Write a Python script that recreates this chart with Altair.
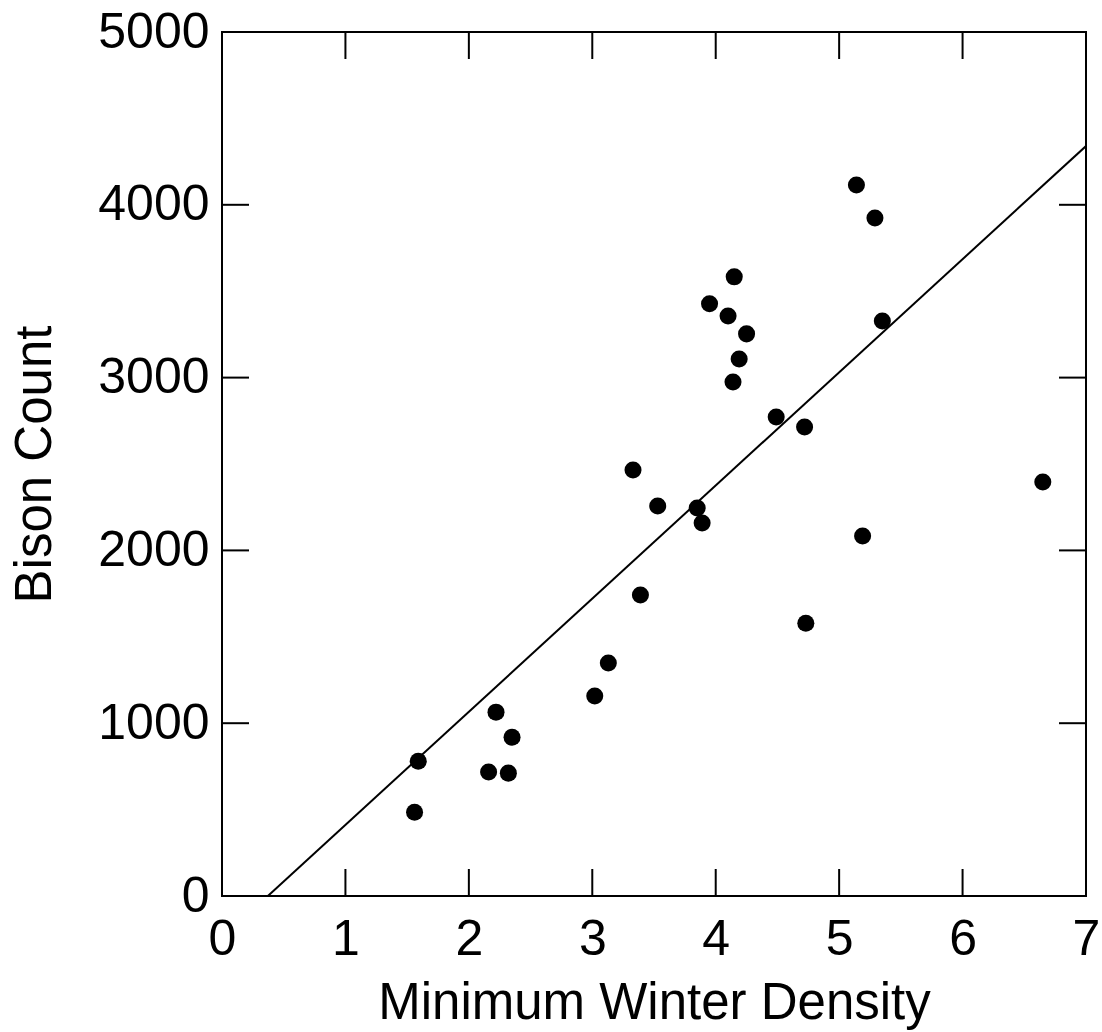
import altair as alt
import pandas as pd

density = [1.56, 1.59, 2.16, 2.32, 2.22, 2.35, 3.02, 3.13, 3.39, 3.33, 3.53, 3.85, 3.89,
           3.95, 4.10, 4.15, 4.25, 4.19, 4.14, 4.49, 4.72, 4.73, 5.14, 5.29, 5.35, 5.19, 6.65]
count = [485, 780, 717, 711, 1064, 919, 1157, 1348, 1742, 2465, 2257, 2245, 2158,
         3427, 3357, 3583, 3253, 3108, 2975, 2772, 2714, 1579, 4115, 3924, 3328, 2083, 2396]
x_ticks = [0, 1, 2, 3, 4, 5, 6, 7]
y_ticks = [0, 1000, 2000, 3000, 4000, 5000]

df = pd.DataFrame({"density": density, "count": count})
xt = pd.DataFrame({"density": x_ticks})
yt = pd.DataFrame({"count": y_ticks})

W, H, T = 864, 864, 27
FONT = "Liberation Sans"

xs = alt.Scale(domain=[0, 7], nice=False, zero=False)
ys = alt.Scale(domain=[0, 5000], nice=False, zero=False)

xaxis = alt.Axis(title="Minimum Winter Density", values=x_ticks, format="d",
                 labelPadding=18, titlePadding=14, labelFlush=False)
yaxis = alt.Axis(title="Bison Count", values=y_ticks, format="d",
                 labelPadding=13, titlePadding=36, labelFlush=False)

points = alt.Chart(df).mark_circle(size=290, color="black", opacity=1).encode(
    x=alt.X("density:Q", scale=xs, axis=xaxis),
    y=alt.Y("count:Q", scale=ys, axis=yaxis),
)

fit = alt.Chart(df).transform_regression(
    "density", "count", extent=[0, 7]
).mark_line(color="black", strokeWidth=2, clip=True).encode(
    x=alt.X("density:Q", scale=xs),
    y=alt.Y("count:Q", scale=ys),
)

tick_style = dict(color="black", strokeWidth=2)
bottom = alt.Chart(xt).mark_rule(**tick_style).encode(
    x=alt.X("density:Q", scale=xs), y=alt.value(H), y2=alt.value(H - T))
top = alt.Chart(xt).mark_rule(**tick_style).encode(
    x=alt.X("density:Q", scale=xs), y=alt.value(0), y2=alt.value(T))
left = alt.Chart(yt).mark_rule(**tick_style).encode(
    y=alt.Y("count:Q", scale=ys), x=alt.value(0), x2=alt.value(T))
right = alt.Chart(yt).mark_rule(**tick_style).encode(
    y=alt.Y("count:Q", scale=ys), x=alt.value(W), x2=alt.value(W - T))

chart = alt.layer(fit, points, bottom, top, left, right).properties(
    width=W, height=H,
    autosize=alt.AutoSizeParams(type="none"),
    padding={"left": 222, "top": 32, "right": 16, "bottom": 136},
    background="white",
).configure_view(
    stroke="black", strokeWidth=2
).configure_axis(
    grid=False, domain=False, ticks=False, tickSize=0,
    labelFont=FONT, labelFontSize=50, labelColor="black",
    titleFont=FONT, titleFontSize=51, titleFontWeight="normal", titleColor="black",
)

chart.save("out.html", embed_options={"renderer": "svg", "actions": False})
